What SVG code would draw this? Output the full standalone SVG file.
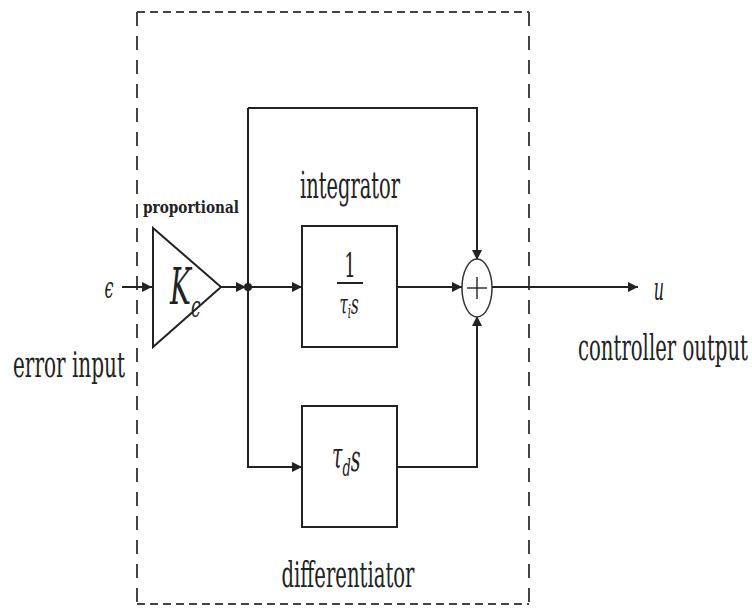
<svg xmlns="http://www.w3.org/2000/svg" width="752" height="608" viewBox="0 0 752 608">
<style>
.ln{fill:none;stroke:#222;stroke-width:2}
.bx{fill:#fff;stroke:#222;stroke-width:2}
.dash{fill:none;stroke:#444;stroke-width:2}
text{fill:#222;font-family:'DejaVu Serif',serif}
.it{font-style:italic}
</style>
<defs>
<marker id="ar" viewBox="0 0 10 10" refX="10" refY="5" markerWidth="10" markerHeight="10" markerUnits="userSpaceOnUse" orient="auto">
<path d="M0,0 L10,5 L0,10 z" fill="#222"/>
</marker>
</defs>
<rect width="752" height="608" fill="#fff"/>
<g id="boundary">
<path class="dash" d="M137,12 H529" stroke-dasharray="8,5"/>
<path class="dash" d="M137,604 H529" stroke-dasharray="8,5"/>
<path class="dash" d="M137,12 V604" stroke-dasharray="14,10"/>
<path class="dash" d="M529,12 V604" stroke-dasharray="14,10"/>
</g>
<g id="connectors">
<path class="ln" d="M122,287 H152" marker-end="url(#ar)"/>
<path class="ln" d="M221,287 H246" marker-end="url(#ar)"/>
<path class="ln" d="M248,287 H302" marker-end="url(#ar)"/>
<path class="ln" d="M248,108 V467 H302" marker-end="url(#ar)"/>
<path class="ln" d="M248,108 H477 V260" marker-end="url(#ar)"/>
<path class="ln" d="M397,287 H462" marker-end="url(#ar)"/>
<path class="ln" d="M397,467 H477 V316" marker-end="url(#ar)"/>
<path class="ln" d="M492,287 H638" marker-end="url(#ar)"/>
<circle cx="248" cy="287" r="4" fill="#222"/>
</g>
<g id="proportional">
<polygon class="bx" points="153,228 221,287 153,347"/>
<text class="it" transform="translate(170,304) scale(1,1.8)" font-size="28">K<tspan font-size="17" dy="7">c</tspan></text>
<text transform="translate(143,213) scale(1,1.4)" font-weight="bold" font-size="12" textLength="96" lengthAdjust="spacingAndGlyphs">proportional</text>
</g>
<g id="integrator">
<rect class="bx" x="302" y="226" width="95" height="121"/>
<text transform="translate(350,277) scale(1,1.9)" font-size="18" text-anchor="middle">1</text>
<path class="ln" d="M337,283 H363" stroke-width="2"/>
<text class="it" transform="translate(349,314) scale(1,1.9)" font-size="15" text-anchor="middle">τ<tspan font-size="10" dy="2">i</tspan><tspan dy="-2">s</tspan></text>
<text transform="translate(350,198) scale(1,1.9)" font-size="20" text-anchor="middle" textLength="100" lengthAdjust="spacingAndGlyphs">integrator</text>
</g>
<g id="sum">
<ellipse cx="477" cy="288" rx="15" ry="29" fill="#fff" stroke="#333" stroke-width="1.5"/>
<path d="M467,288 H487 M477,277 V299" stroke="#333" stroke-width="1.5"/>
</g>
<g id="differentiator">
<rect class="bx" x="302" y="406" width="95" height="121"/>
<text class="it" transform="translate(332,468) scale(1,1.9)" font-size="19">τ<tspan font-size="13" dy="4">d</tspan><tspan dy="-2.5">s</tspan></text>
<text transform="translate(348,587) scale(1,1.9)" font-size="19" text-anchor="middle" textLength="133" lengthAdjust="spacingAndGlyphs">differentiator</text>
</g>
<g id="input">
<text class="it" transform="translate(109,298) scale(1,1.9)" font-size="16" text-anchor="middle">ϵ</text>
<text transform="translate(69,377) scale(1,2)" font-size="18" text-anchor="middle" textLength="112" lengthAdjust="spacingAndGlyphs">error input</text>
</g>
<g id="output">
<text class="it" transform="translate(659,300) scale(1,2)" font-size="16" text-anchor="middle">u</text>
<text transform="translate(663,360) scale(1,2.1)" font-size="17" text-anchor="middle" textLength="170" lengthAdjust="spacingAndGlyphs">controller output</text>
</g>
</svg>
